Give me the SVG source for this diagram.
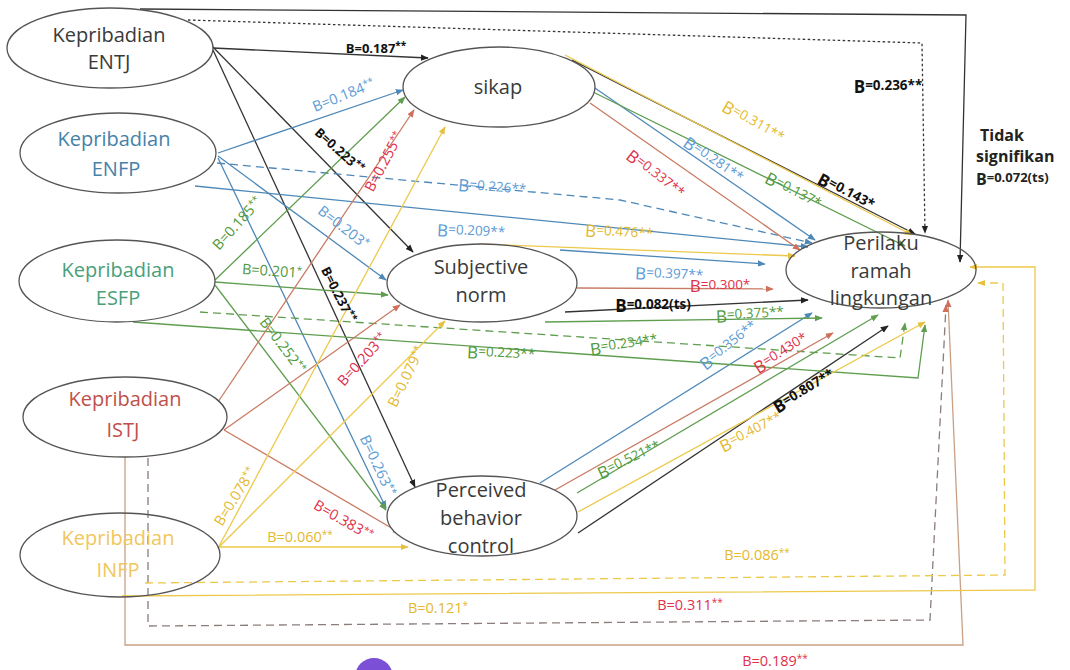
<svg xmlns="http://www.w3.org/2000/svg" width="1070" height="670" viewBox="0 0 1070 670">
<defs>
<style>
.n{fill:#fff;stroke:#555;stroke-width:1.3}
.n0{fill:none;stroke:#555;stroke-width:1.3}
.t{font-family:"Open Sans","Liberation Sans",sans-serif;font-size:20px;text-anchor:middle;fill:#3a3a3a}
.c{fill:none;stroke-width:1.3}
.k{stroke:#333}.bl{stroke:#4e88b8}.gr{stroke:#5f9e4f}.rd{stroke:#c97a63}.yl{stroke:#ecc94b}.tn{stroke:#c9a084}.gy{stroke:#8a7d7a}
.da{stroke-dasharray:8 5}.dt{stroke-dasharray:2.5 2.5}
.l{font-family:"Open Sans","Liberation Sans",sans-serif;font-size:14.5px;text-anchor:middle}
.lk{fill:#111;font-weight:bold;font-size:13px}.lb{fill:#5b9bd5}.lg{fill:#4f9a3c}.lr{fill:#e0304a}.ly{fill:#e3b92e}
.s{font-size:10px}
.m{font-size:13.5px}
.bg{font-size:17px}
.ti{font-family:"Open Sans","Liberation Sans",sans-serif;font-size:16px;font-weight:bold;fill:#222}
</style>
<marker id="aK" viewBox="0 0 10 10" refX="9" refY="5" markerWidth="8" markerHeight="8" markerUnits="userSpaceOnUse" orient="auto"><path d="M0,1 L10,5 L0,9 z" fill="#222"/></marker>
<marker id="aB" viewBox="0 0 10 10" refX="9" refY="5" markerWidth="8" markerHeight="8" markerUnits="userSpaceOnUse" orient="auto"><path d="M0,1 L10,5 L0,9 z" fill="#4e88b8"/></marker>
<marker id="aG" viewBox="0 0 10 10" refX="9" refY="5" markerWidth="8" markerHeight="8" markerUnits="userSpaceOnUse" orient="auto"><path d="M0,1 L10,5 L0,9 z" fill="#5f9e4f"/></marker>
<marker id="aR" viewBox="0 0 10 10" refX="9" refY="5" markerWidth="8" markerHeight="8" markerUnits="userSpaceOnUse" orient="auto"><path d="M0,1 L10,5 L0,9 z" fill="#d0705a"/></marker>
<marker id="aY" viewBox="0 0 10 10" refX="9" refY="5" markerWidth="8" markerHeight="8" markerUnits="userSpaceOnUse" orient="auto"><path d="M0,1 L10,5 L0,9 z" fill="#e8c040"/></marker>
</defs>
<rect width="1070" height="670" fill="#fff"/>

<g id="connectors">
<!-- black (ENTJ) -->
<path class="c k" d="M140,9 L966,15 L960,262" marker-end="url(#aK)"/>
<path class="c k dt" d="M188,20 L922,43 L925,233" marker-end="url(#aK)"/>
<path class="c k" d="M213,48 L428,58" marker-end="url(#aK)"/>
<path class="c k" d="M212,46 L413,252" marker-end="url(#aK)"/>
<path class="c k" d="M213,50 L415,487" marker-end="url(#aK)"/>
<path class="c k" d="M572,60 L915,234" marker-end="url(#aK)"/>
<path class="c k" d="M565,312 L808,300" marker-end="url(#aK)"/>
<path class="c k" d="M578,533 L888,326" marker-end="url(#aK)"/>
<!-- blue (ENFP) -->
<path class="c bl" d="M218,153 L403,90" marker-end="url(#aB)"/>
<path class="c bl" d="M218,156 L386,280" marker-end="url(#aB)"/>
<path class="c bl" d="M218,158 L386,508" marker-end="url(#aB)"/>
<path class="c bl da" d="M217,163 L620,200 L812,243" marker-end="url(#aB)"/>
<path class="c bl" d="M195,186 L808,247" marker-end="url(#aB)"/>
<path class="c bl" d="M592,86 L815,240" marker-end="url(#aB)"/>
<path class="c bl" d="M560,250 L765,264" marker-end="url(#aB)"/>
<path class="c bl" d="M540,483 L812,313" marker-end="url(#aB)"/>
<!-- green (ESFP) -->
<path class="c gr" d="M215,280 L405,97" marker-end="url(#aG)"/>
<path class="c gr" d="M215,282 L388,295" marker-end="url(#aG)"/>
<path class="c gr" d="M215,285 L386,510" marker-end="url(#aG)"/>
<path class="c gr da" d="M200,312 L900,358 L905,323" marker-end="url(#aG)"/>
<path class="c gr" d="M133,322 L918,378 L925,325" marker-end="url(#aG)"/>
<path class="c gr" d="M593,92 L905,246" marker-end="url(#aG)"/>
<path class="c gr" d="M545,322 L822,318" marker-end="url(#aG)"/>
<path class="c gr" d="M577,493 L878,315" marker-end="url(#aG)"/>
<!-- red (ISTJ) -->
<path class="c rd" d="M218,402 L414,110" marker-end="url(#aR)"/>
<path class="c rd" d="M224,430 L400,305" marker-end="url(#aR)"/>
<path class="c rd" d="M224,430 L400,533" marker-end="url(#aR)"/>
<path class="c rd" d="M590,103 L800,250" marker-end="url(#aR)"/>
<path class="c rd" d="M577,288 L773,289" marker-end="url(#aR)"/>
<path class="c rd" d="M555,490 L833,333" marker-end="url(#aR)"/>
<path class="c tn" d="M125,457 L125,645 L963,645 L948,300" marker-end="url(#aR)"/>
<path class="c gy da" d="M148,458 L148,626 L930,620 L946,305" marker-end="url(#aR)"/>
<!-- yellow (INFP) -->
<path class="c yl" d="M218,548 L445,127" marker-end="url(#aY)"/>
<path class="c yl" d="M218,548 L445,321" marker-end="url(#aY)"/>
<path class="c yl" d="M218,547 L408,547" marker-end="url(#aY)"/>
<path class="c yl" d="M565,55 L912,235" marker-end="url(#aY)"/>
<path class="c yl" d="M478,244 L795,256" marker-end="url(#aY)"/>
<path class="c yl" d="M578,512 L925,322" marker-end="url(#aY)"/>
<path class="c yl da" d="M145,583 L1005,575 L1003,283 L978,283" marker-end="url(#aY)"/>
<path class="c yl" d="M122,596 L1035,590 L1035,267 L970,267" marker-end="url(#aY)"/>
</g>

<g id="labels">
<text class="l lk" transform="translate(376,49)" y="4">B=0.187<tspan class="s" dy="-4">**</tspan></text>
<text class="l lk" transform="translate(339,151) rotate(42)" y="4">B=0.223<tspan class="s" dy="-4">**</tspan></text>
<text class="l lk" transform="translate(338,295) rotate(63)" y="4">B=0.237<tspan class="s" dy="-4">**</tspan></text>
<text class="l lk" transform="translate(888,89)" y="4"><tspan class="bg">B</tspan><tspan class="m" dy="-3">=0.236**</tspan></text>
<text class="l lk" transform="translate(845,194) rotate(28)" y="4"><tspan class="bg">B</tspan><tspan class="m" dy="-3">=0.143*</tspan></text>
<text class="l lk" transform="translate(653,308)" y="4"><tspan class="bg">B</tspan><tspan class="m" dy="-3">=0.082(ts)</tspan></text>
<text class="l lk" transform="translate(805,393) rotate(-31)" y="4"><tspan class="bg">B</tspan><tspan class="m" dy="-3">=0.807**</tspan></text>

<text class="l lb" transform="translate(344,96) rotate(-22)" y="4">B=0.184<tspan class="s" dy="-4">**</tspan></text>
<text class="l lb" transform="translate(343,228) rotate(38)" y="4">B=0.203<tspan class="s" dy="-4">*</tspan></text>
<text class="l lb" transform="translate(377,466) rotate(65)" y="4">B=0.263<tspan class="s" dy="-4">**</tspan></text>
<text class="l lb" transform="translate(492,190) rotate(5)" y="4"><tspan class="bg">B</tspan><tspan class="m" dy="-3">=0.226**</tspan></text>
<text class="l lb" transform="translate(471,234) rotate(3)" y="4"><tspan class="bg">B</tspan><tspan class="m" dy="-3">=0.209**</tspan></text>
<text class="l lb" transform="translate(712,162) rotate(35)" y="4"><tspan class="bg">B</tspan><tspan class="m" dy="-3">=0.281**</tspan></text>
<text class="l lb" transform="translate(669,277) rotate(3)" y="4"><tspan class="bg">B</tspan><tspan class="m" dy="-3">=0.397**</tspan></text>
<text class="l lb" transform="translate(730,347) rotate(-38)" y="4"><tspan class="bg">B</tspan><tspan class="m" dy="-3">=0.356**</tspan></text>

<text class="l lg" transform="translate(238,224) rotate(-48)" y="4">B=0.185<tspan class="s" dy="-4">**</tspan></text>
<text class="l lg" transform="translate(272,272) rotate(4)" y="4">B=0.201<tspan class="s" dy="-4">*</tspan></text>
<text class="l lg" transform="translate(282,346) rotate(53)" y="4">B=0.252<tspan class="s" dy="-4">**</tspan></text>
<text class="l lg" transform="translate(501,356) rotate(3)" y="4"><tspan class="bg">B</tspan><tspan class="m" dy="-3">=0.223**</tspan></text>
<text class="l lg" transform="translate(624,347) rotate(-8)" y="4"><tspan class="bg">B</tspan><tspan class="m" dy="-3">=0.234**</tspan></text>
<text class="l lg" transform="translate(792,193) rotate(28)" y="4"><tspan class="bg">B</tspan><tspan class="m" dy="-3">=0.137*</tspan></text>
<text class="l lg" transform="translate(750,317) rotate(-3)" y="4"><tspan class="bg">B</tspan><tspan class="m" dy="-3">=0.375**</tspan></text>
<text class="l lg" transform="translate(630,462) rotate(-25)" y="4"><tspan class="bg">B</tspan><tspan class="m" dy="-3">=0.521**</tspan></text>

<text class="l lr" transform="translate(385,162) rotate(-62)" y="4">B=0.255<tspan class="s" dy="-4">**</tspan></text>
<text class="l lr" transform="translate(363,360) rotate(-48)" y="4">B=0.203<tspan class="s" dy="-4">**</tspan></text>
<text class="l lr" transform="translate(343,521) rotate(30)" y="4">B=0.383<tspan class="s" dy="-4">**</tspan></text>
<text class="l lr" transform="translate(654,176) rotate(38)" y="4"><tspan class="bg">B</tspan><tspan class="m" dy="-3">=0.337**</tspan></text>
<text class="l lr" transform="translate(720,288)" y="4"><tspan class="bg">B</tspan><tspan class="m" dy="-3">=0.300*</tspan></text>
<text class="l lr" transform="translate(782,355) rotate(-32)" y="4"><tspan class="bg">B</tspan><tspan class="m" dy="-3">=0.430*</tspan></text>
<text class="l lr" transform="translate(690,606)" y="4">B=0.311<tspan class="s" dy="-4">**</tspan></text>
<text class="l lr" transform="translate(775,662)" y="4">B=0.189<tspan class="s" dy="-4">**</tspan></text>

<text class="l ly" transform="translate(236,497) rotate(-58)" y="4">B=0.078<tspan class="s" dy="-4">**</tspan></text>
<text class="l ly" transform="translate(407,377) rotate(-64)" y="4">B=0.079<tspan class="s" dy="-4">**</tspan></text>
<text class="l ly" transform="translate(300,538)" y="4">B=0.060<tspan class="s" dy="-4">**</tspan></text>
<text class="l ly" transform="translate(752,124) rotate(30)" y="4"><tspan class="bg">B</tspan><tspan class="m" dy="-3">=0.311**</tspan></text>
<text class="l ly" transform="translate(619,235) rotate(4)" y="4"><tspan class="bg">B</tspan><tspan class="m" dy="-3">=0.476**</tspan></text>
<text class="l ly" transform="translate(752,434) rotate(-27)" y="4"><tspan class="bg">B</tspan><tspan class="m" dy="-3">=0.407**</tspan></text>
<text class="l ly" transform="translate(757,556)" y="4">B=0.086<tspan class="s" dy="-4">**</tspan></text>
<text class="l ly" transform="translate(438,609)" y="4">B=0.121<tspan class="s" dy="-4">*</tspan></text>

<text class="ti" x="980" y="141">Tidak</text>
<text class="ti" x="976" y="162">signifikan</text>
<text class="ti" x="976" y="185">B<tspan font-size="13" dy="-3">=0.072(ts)</tspan></text>
</g>

<g id="node-entj"><ellipse class="n" cx="110" cy="48" rx="103" ry="40"/><text class="t" x="109" y="42">Kepribadian</text><text class="t" x="109" y="69">ENTJ</text></g>
<g id="node-enfp"><ellipse class="n" cx="118" cy="153" rx="98" ry="40"/><text class="t" x="114" y="146" style="fill:#4682a8">Kepribadian</text><text class="t" x="116" y="176" style="fill:#4682a8">ENFP</text></g>
<g id="node-esfp"><ellipse class="n" cx="117" cy="281" rx="98" ry="41"/><text class="t" x="118" y="277" style="fill:#4aa07a">Kepribadian</text><text class="t" x="118" y="305" style="fill:#4aa07a">ESFP</text></g>
<g id="node-istj"><ellipse class="n" cx="125" cy="417" rx="102" ry="40"/><text class="t" x="125" y="406" style="fill:#c0504d">Kepribadian</text><text class="t" x="123" y="437" style="fill:#c0504d">ISTJ</text></g>
<g id="node-infp"><ellipse class="n0" cx="120" cy="555" rx="100" ry="42"/><text class="t" x="118" y="545" style="fill:#f0c75c">Kepribadian</text><text class="t" x="118" y="577" style="fill:#f0c75c">INFP</text></g>
<g id="node-sikap"><ellipse class="n" cx="499" cy="87" rx="96" ry="40"/><text class="t" x="498" y="94">sikap</text></g>
<g id="node-sn"><ellipse class="n" cx="482" cy="283" rx="95" ry="39"/><text class="t" x="481" y="274">Subjective</text><text class="t" x="481" y="302">norm</text></g>
<g id="node-pbc"><ellipse class="n" cx="482" cy="516" rx="95" ry="40"/><text class="t" x="481" y="497">Perceived</text><text class="t" x="481" y="525">behavior</text><text class="t" x="481" y="553">control</text></g>
<g id="node-prl"><ellipse class="n0" cx="881" cy="270" rx="95" ry="38"/><text class="t" x="881" y="250">Perilaku</text><text class="t" x="881" y="278">ramah</text><text class="t" x="881" y="305">lingkungan</text></g>

<circle cx="374" cy="677" r="19" fill="#7b4fd6"/>
</svg>
